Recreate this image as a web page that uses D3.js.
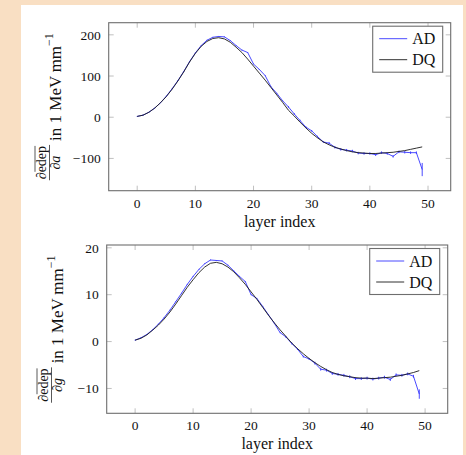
<!DOCTYPE html>
<html>
<head>
<meta charset="utf-8">
<script src="https://cdn.jsdelivr.net/npm/d3@7/dist/d3.min.js"></script>
<style>
  html, body { margin: 0; padding: 0; background: #f9dfc3; }
  svg { display: block; }
  text { font-family: "Liberation Serif", "DejaVu Serif", serif; fill: #111; }
</style>
</head>
<body>
<svg id="fig" width="466" height="455"></svg>
<script>
// Layer index along the shower
const layerIndex = [0,1,2,3,4,5,6,7,8,9,10,11,12,13,14,15,16,17,18,19,20,21,22,23,24,
  25,26,27,28,29,30,31,32,33,34,35,36,37,38,39,40,41,42,43,44,45,46,47,48,49];

// d(edep)/da : automatic differentiation (AD) and difference quotient (DQ)
const adA = [2, 5, 12, 22, 35, 51, 69, 89, 111, 135, 156, 174, 187, 194, 196, 195, 186, 174, 163, 157,
  129, 116, 101, 74, 58, 40, 25, 8, -8, -24, -33, -47, -60, -63, -73, -78, -80, -82, -87, -88,
  -88, -91, -86, -88, -95, -84, -85, -86, -86, -127];
const adAErr = [1, 1, 1, 1, 1, 1, 1, 1, 1, 1, 1, 1, 1, 1, 1, 1, 1, 1, 1, 1,
  1, 1, 1, 1, 1, 1, 2, 2, 2, 2, 2, 2, 2, 3, 3, 3, 3, 3, 3, 3,
  3, 3, 3, 3, 3, 3, 3, 3, 3, 16];
const dqA = [2, 5, 12, 22, 35, 50, 68, 88, 110, 134, 155, 172, 184, 191, 193, 190, 182, 170, 157, 141,
  124, 107, 90, 72, 54, 36, 17, 3, -12, -26, -39, -50, -60, -67, -73, -77, -81, -84, -86, -87,
  -88, -88, -87, -86, -85, -83, -81, -78, -75, -72];

// d(edep)/dg
const adG = [0.3, 0.8, 1.5, 2.5, 3.7, 5.1, 6.7, 8.5, 10.3, 12.2, 13.9, 15.4, 16.6, 17.4, 17.3, 17.2, 16.3, 15.1, 13.9, 12.8,
  10.0, 9.2, 7.5, 5.7, 3.9, 1.9, 1.0, -0.4, -1.6, -3.2, -3.7, -4.6, -5.9, -6.1, -6.8, -7.0, -7.2, -7.5, -7.9, -7.9,
  -7.8, -8.0, -7.8, -7.6, -8.1, -7.1, -7.2, -6.9, -7.4, -11.2];
const adGErr = [0.1, 0.1, 0.1, 0.1, 0.1, 0.1, 0.1, 0.1, 0.1, 0.1, 0.1, 0.1, 0.1, 0.1, 0.1, 0.1, 0.1, 0.1, 0.1, 0.1,
  0.1, 0.1, 0.1, 0.1, 0.1, 0.1, 0.2, 0.2, 0.2, 0.2, 0.2, 0.3, 0.3, 0.3, 0.3, 0.3, 0.3, 0.3, 0.3, 0.3,
  0.3, 0.3, 0.3, 0.3, 0.3, 0.3, 0.3, 0.3, 0.3, 1.0];
const dqG = [0.3, 0.7, 1.4, 2.4, 3.5, 4.8, 6.3, 8.0, 9.8, 11.6, 13.2, 14.7, 15.9, 16.7, 16.9, 16.6, 15.9, 14.9, 13.6, 12.2,
  10.6, 9.0, 7.3, 5.6, 4.0, 2.5, 1.1, -0.3, -1.5, -2.6, -3.6, -4.5, -5.3, -6.0, -6.6, -7.0, -7.3, -7.5, -7.7, -7.8,
  -7.8, -7.9, -7.8, -7.7, -7.6, -7.4, -7.2, -6.9, -6.6, -6.2];

const xTicks = [0, 10, 20, 30, 40, 50];
const yTicksA = [-100, 0, 100, 200];
const yTicksG = [-10, 0, 10, 20];
const seriesNames = ["AD", "DQ"];

const svg = d3.select("#fig");

// white page area
svg.append("rect").attr("x", 21).attr("y", 5).attr("width", 442).attr("height", 450).attr("fill", "#fff");

const AD_COLOR = "#3636ff";
const DQ_COLOR = "#1a1a1a";
const FRAME = "#6e6e6e";
const TICK = "#b0b0b0";

function fmt(v) { return v < 0 ? "\u2212" + Math.abs(v) : String(v); }

function panel(cfg) {
  const g = svg.append("g");
  const x = d3.scaleLinear().domain(cfg.xDomain).range([cfg.left, cfg.right]);
  const y = d3.scaleLinear().domain(cfg.yDomain).range([cfg.bottom, cfg.top]);

  // ticks inside the frame on all four sides
  const tl = 5;
  xTicks.forEach(t => {
    g.append("line").attr("x1", x(t)).attr("x2", x(t)).attr("y1", cfg.bottom).attr("y2", cfg.bottom - tl)
      .attr("stroke", TICK).attr("stroke-width", 0.8);
    g.append("line").attr("x1", x(t)).attr("x2", x(t)).attr("y1", cfg.top).attr("y2", cfg.top + tl)
      .attr("stroke", TICK).attr("stroke-width", 0.8);
    g.append("text").attr("x", x(t)).attr("y", cfg.bottom + 17).attr("text-anchor", "middle")
      .attr("font-size", 13.5).text(fmt(t));
  });
  cfg.yTicks.forEach(t => {
    g.append("line").attr("x1", cfg.left).attr("x2", cfg.left + tl).attr("y1", y(t)).attr("y2", y(t))
      .attr("stroke", TICK).attr("stroke-width", 0.8);
    g.append("line").attr("x1", cfg.right).attr("x2", cfg.right - tl).attr("y1", y(t)).attr("y2", y(t))
      .attr("stroke", TICK).attr("stroke-width", 0.8);
    g.append("text").attr("x", cfg.left - 8).attr("y", y(t) + 4.7).attr("text-anchor", "end")
      .attr("font-size", 13.5).text(fmt(t));
  });

  const clipId = "clip" + cfg.id;
  svg.append("clipPath").attr("id", clipId).append("rect")
    .attr("x", cfg.left).attr("y", cfg.top).attr("width", cfg.right - cfg.left).attr("height", cfg.bottom - cfg.top);
  const plot = g.append("g").attr("clip-path", `url(#${clipId})`);

  const line = d3.line().x(d => x(d[0])).y(d => y(d[1]));

  // AD with error bars
  plot.append("path").datum(layerIndex.map((l, i) => [l, cfg.ad[i]]))
    .attr("d", line).attr("fill", "none").attr("stroke", AD_COLOR).attr("stroke-width", 0.9);
  plot.selectAll(".err").data(layerIndex).enter().append("line")
    .attr("x1", l => x(l)).attr("x2", l => x(l))
    .attr("y1", (l, i) => y(cfg.ad[i] - cfg.adErr[i])).attr("y2", (l, i) => y(cfg.ad[i] + cfg.adErr[i]))
    .attr("stroke", AD_COLOR).attr("stroke-width", 0.9);

  // DQ
  plot.append("path").datum(layerIndex.map((l, i) => [l, cfg.dq[i]]))
    .attr("d", line).attr("fill", "none").attr("stroke", DQ_COLOR).attr("stroke-width", 0.9);

  // frame
  g.append("rect").attr("x", cfg.left).attr("y", cfg.top)
    .attr("width", cfg.right - cfg.left).attr("height", cfg.bottom - cfg.top)
    .attr("fill", "none").attr("stroke", FRAME).attr("stroke-width", 1.1);

  // legend
  const lg = g.append("g");
  const lx = cfg.right - 8 - 70, ly = cfg.top + 3.5;
  lg.append("rect").attr("x", lx).attr("y", ly).attr("width", 70).attr("height", 46)
    .attr("fill", "#fff").attr("stroke", FRAME).attr("stroke-width", 1.1);
  [AD_COLOR, DQ_COLOR].forEach((c, k) => {
    const yy = ly + 12.5 + k * 21;
    lg.append("line").attr("x1", lx + 6.5).attr("x2", lx + 34.5).attr("y1", yy).attr("y2", yy)
      .attr("stroke", c).attr("stroke-width", 0.9);
    lg.append("text").attr("x", lx + 39.5).attr("y", yy + 5.5).attr("font-size", 16).text(seriesNames[k]);
  });

  // x label
  g.append("text").attr("x", (cfg.left + cfg.right) / 2).attr("y", cfg.bottom + 36)
    .attr("text-anchor", "middle").attr("font-size", 16).text("layer index");

  // y label: overline(d edep) / d<param> in 1 MeV mm^-1, rotated
  const cy = (cfg.top + cfg.bottom) / 2;
  const yl = g.append("g").attr("transform", `translate(${cfg.labelX},${cy}) rotate(-90)`);
  const num = yl.append("text").attr("font-size", 14).attr("text-anchor", "middle");
  num.append("tspan").attr("font-style", "italic").text("\u2202");
  num.append("tspan").text("edep");
  const den = yl.append("text").attr("font-size", 14).attr("text-anchor", "middle");
  den.append("tspan").attr("font-style", "italic").text("\u2202");
  den.append("tspan").attr("font-style", "italic").text(cfg.param);
  const main = yl.append("text").attr("font-size", 17);
  main.append("tspan").text("in 1 MeV\u2009mm");
  main.append("tspan").attr("font-size", 12).attr("dy", -7.5).text("\u22121");

  const wNum = num.node().getComputedTextLength();
  const wDen = den.node().getComputedTextLength();
  const wFrac = Math.max(wNum, wDen) + 2;
  const wMain = main.node().getComputedTextLength();
  const gap = 4;
  const total = wFrac + gap + wMain;
  const fx = -total / 2 + wFrac / 2;
  num.attr("x", fx).attr("y", -14.5);
  den.attr("x", fx).attr("y", -0.5);
  yl.append("line").attr("x1", fx - wFrac / 2).attr("x2", fx + wFrac / 2).attr("y1", -11).attr("y2", -11)
    .attr("stroke", "#111").attr("stroke-width", 0.7);
  // overline over the numerator
  yl.append("line").attr("x1", fx - wNum / 2 + 7.5).attr("x2", fx + wNum / 2).attr("y1", -25.5).attr("y2", -25.5)
    .attr("stroke", "#111").attr("stroke-width", 0.7);
  main.attr("x", -total / 2 + wFrac + gap).attr("y", 0);
}

panel({
  id: "a", left: 108.7, right: 450.7, top: 22.7, bottom: 190.7,
  xDomain: [-4.9, 53.9], yDomain: [-178.3, 229.4], yTicks: yTicksA,
  ad: adA, adErr: adAErr, dq: dqA, param: "a", labelX: 60.5
});
panel({
  id: "g", left: 106.7, right: 447.7, top: 245, bottom: 413.3,
  xDomain: [-4.9, 53.9], yDomain: [-15.3, 20.6], yTicks: yTicksG,
  ad: adG, adErr: adGErr, dq: dqG, param: "g", labelX: 62.5
});
</script>
</body>
</html>
